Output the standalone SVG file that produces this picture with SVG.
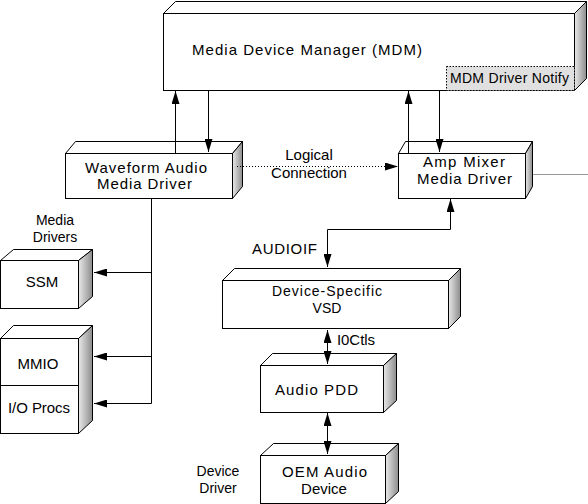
<svg xmlns="http://www.w3.org/2000/svg" width="588" height="504" viewBox="0 0 588 504">
<defs>
<linearGradient id="side" x1="0" y1="0" x2="1" y2="0">
<stop offset="0" stop-color="#e8e8e8"/>
<stop offset="1" stop-color="#8c8c8c"/>
</linearGradient>
<marker id="ah" viewBox="0 0 13 8" refX="13" refY="4" markerWidth="13" markerHeight="8" orient="auto-start-reverse" markerUnits="userSpaceOnUse">
<path d="M0,0 L13,4 L0,8 z" fill="#000"/>
</marker>
</defs>
<style>
.f{fill:#fff;stroke:#000;stroke-width:1}
.s{fill:url(#side);stroke:#000;stroke-width:1}
.t{font-family:"Liberation Sans",Arial,sans-serif;font-size:15px;fill:#000}
.sm{font-size:14px}
.c{stroke:#000;stroke-width:1;fill:none}
</style>
<rect width="588" height="504" fill="#fff"/>

<g id="mdm">
<polygon class="f" points="163.5,13.5 175.5,1.5 586.5,1.5 574.5,13.5"/>
<polygon class="s" points="574.5,13.5 586.5,1.5 586.5,78.5 574.5,90.5"/>
<rect class="f" x="163.5" y="13.5" width="411" height="77"/>
<rect x="446.5" y="66.5" width="128" height="24" fill="#e0e0e0" stroke="#000" stroke-dasharray="1.5,1.5"/>
<text class="t" x="192" y="55" textLength="230" lengthAdjust="spacing">Media Device Manager (MDM)</text>
<text class="t sm" x="450" y="83" textLength="119" lengthAdjust="spacing">MDM Driver Notify</text>
</g>

<g id="waveform">
<polygon class="f" points="65.5,153.5 75.5,141.5 242.5,141.5 232.5,153.5"/>
<polygon class="s" points="232.5,153.5 242.5,141.5 242.5,186.5 232.5,198.5"/>
<rect class="f" x="65.5" y="153.5" width="167" height="45"/>
<text class="t" x="85" y="173" textLength="122" lengthAdjust="spacing">Waveform Audio</text>
<text class="t" x="97" y="189" textLength="95" lengthAdjust="spacing">Media Driver</text>
</g>

<g id="ampmixer">
<polygon class="f" points="398.5,153.5 405.5,141.5 532.5,141.5 525.5,153.5"/>
<polygon class="s" points="525.5,153.5 532.5,141.5 532.5,186.5 525.5,198.5"/>
<rect class="f" x="398.5" y="153.5" width="127" height="45"/>
<text class="t" x="423" y="167" textLength="82" lengthAdjust="spacing">Amp Mixer</text>
<text class="t" x="417" y="184" textLength="95" lengthAdjust="spacing">Media Driver</text>
</g>

<g id="ssm">
<polygon class="f" points="0.5,260.5 13.5,249.5 92.5,249.5 78.5,260.5"/>
<polygon class="s" points="78.5,260.5 92.5,249.5 92.5,296.5 78.5,308.5"/>
<rect class="f" x="0.5" y="260.5" width="78" height="48"/>
<text class="t" x="42" y="287" text-anchor="middle">SSM</text>
</g>

<g id="mmio">
<polygon class="f" points="0.5,338.5 13.5,325.5 92.5,325.5 78.5,338.5"/>
<polygon class="s" points="78.5,338.5 92.5,325.5 92.5,420.5 78.5,433.5"/>
<rect class="f" x="0.5" y="338.5" width="78" height="95"/>
<line class="c" x1="0.5" y1="385.5" x2="78.5" y2="385.5"/>
<text class="t" x="38" y="369" text-anchor="middle">MMIO</text>
<text class="t" x="8" y="413" textLength="62" lengthAdjust="spacing">I/O Procs</text>
</g>

<g id="vsd">
<polygon class="f" points="222.5,280.5 234.5,268.5 460.5,268.5 448.5,280.5"/>
<polygon class="s" points="448.5,280.5 460.5,268.5 460.5,316.5 448.5,328.5"/>
<rect class="f" x="222.5" y="280.5" width="226" height="48"/>
<text class="t sm" x="272" y="296" textLength="110" lengthAdjust="spacing">Device-Specific</text>
<text class="t sm" x="327" y="313" text-anchor="middle">VSD</text>
</g>

<g id="pdd">
<polygon class="f" points="260.5,365.5 272.5,353.5 396.5,353.5 383.5,365.5"/>
<polygon class="s" points="383.5,365.5 396.5,353.5 396.5,400.5 383.5,412.5"/>
<rect class="f" x="260.5" y="365.5" width="123" height="47"/>
<text class="t" x="275" y="395" textLength="83" lengthAdjust="spacing">Audio PDD</text>
</g>

<g id="oem">
<polygon class="f" points="260.5,455.5 273.5,443.5 398.5,443.5 385.5,455.5"/>
<polygon class="s" points="385.5,455.5 398.5,443.5 398.5,491.5 385.5,503.5"/>
<rect class="f" x="260.5" y="455.5" width="125" height="48"/>
<text class="t" x="282" y="477" textLength="85" lengthAdjust="spacing">OEM Audio</text>
<text class="t" x="324" y="494" text-anchor="middle">Device</text>
</g>

<g id="labels">
<text class="t" x="309" y="160" text-anchor="middle">Logical</text>
<text class="t" x="309" y="178" text-anchor="middle">Connection</text>
<text class="t sm" x="55" y="225" text-anchor="middle">Media</text>
<text class="t sm" x="55" y="242" text-anchor="middle">Drivers</text>
<text class="t" x="252" y="254" textLength="65" lengthAdjust="spacing">AUDIOIF</text>
<text class="t" x="337" y="345" textLength="38" lengthAdjust="spacing">I0Ctls</text>
<text class="t sm" x="218" y="476" text-anchor="middle">Device</text>
<text class="t sm" x="218" y="493" text-anchor="middle">Driver</text>
</g>

<g id="connectors">
<line class="c" x1="175.5" y1="153" x2="175.5" y2="91" marker-end="url(#ah)"/>
<line class="c" x1="208.5" y1="91" x2="208.5" y2="152" marker-end="url(#ah)"/>
<line class="c" x1="408.5" y1="153" x2="408.5" y2="91" marker-end="url(#ah)"/>
<line class="c" x1="439.5" y1="91" x2="439.5" y2="152" marker-end="url(#ah)"/>
<line class="c" x1="237" y1="166.5" x2="398" y2="166.5" stroke-dasharray="1,2" marker-end="url(#ah)"/>
<line x1="533" y1="174.5" x2="588" y2="174.5" stroke="#999" stroke-width="1"/>
<path class="c" d="M450.5,199 V229.5 H327.5 V267" marker-start="url(#ah)" marker-end="url(#ah)"/>
<path class="c" d="M327.5,330 V364" marker-start="url(#ah)" marker-end="url(#ah)"/>
<path class="c" d="M327.5,413 V454" marker-start="url(#ah)" marker-end="url(#ah)"/>
<path class="c" d="M151.5,199 V403.5 H94" marker-end="url(#ah)"/>
<path class="c" d="M151.5,272.5 H94" marker-end="url(#ah)"/>
<path class="c" d="M151.5,356.5 H94" marker-end="url(#ah)"/>
</g>
</svg>
